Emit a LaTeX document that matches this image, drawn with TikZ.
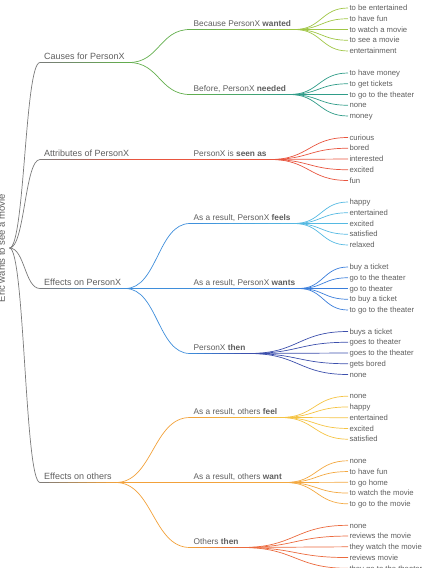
\documentclass[tikz,border=0pt]{standalone}
\usepackage{fontspec}
\setmainfont{Liberation Sans}
\usetikzlibrary{calc}
\definecolor{labelgray}{HTML}{5E5E5E}
\definecolor{edgegray}{HTML}{7A7A7A}
\definecolor{green1}{HTML}{62AE4C}
\definecolor{lime}{HTML}{A0C645}
\definecolor{teal1}{HTML}{2F9C88}
\definecolor{red1}{HTML}{E8553F}
\definecolor{blue1}{HTML}{3F8EDB}
\definecolor{sky}{HTML}{55B9E2}
\definecolor{blue2}{HTML}{3A7EDB}
\definecolor{indigo}{HTML}{3C4FAC}
\definecolor{orange1}{HTML}{F2A13A}
\definecolor{yellow1}{HTML}{F5C343}
\definecolor{orange2}{HTML}{F3A840}
\definecolor{coral}{HTML}{EB6A3E}
\newcommand{\stripe}[3]{\foreach \k in {0,...,7}{\pgfmathsetmacro\mix{100-(\k+0.5)*12.5}\draw[link,line cap=rect,#2!\mix!#3] ($(#1.south west)!\k/8!(#1.south east)$) -- ($(#1.south west)!{(\k+1)/8}!(#1.south east)$);}}

\begin{document}
\begin{tikzpicture}[x=1pt,y=-1pt,every node/.style={text=labelgray},topic/.style={anchor=south west,inner xsep=4pt,inner ysep=2.7pt,text depth=0pt,font=\fontsize{9}{11}\selectfont},subtopic/.style={anchor=south west,inner xsep=3.5pt,inner ysep=2.7pt,text depth=0pt,font=\fontsize{8.3}{10}\selectfont},leaf/.style={anchor=west,inner xsep=1.3pt,inner ysep=0pt,text height=6pt,text depth=0.6pt,font=\fontsize{7.7}{9}\selectfont},link/.style={line width=0.7pt},curve/.style={to path={let \p1=(\tikztostart),\p2=(\tikztotarget) in .. controls ({(\x1+\x2)/2},\y1) and ({(\x1+\x2)/2},\y2) .. (\tikztotarget)}}]
\useasboundingbox (0,0) rectangle (421,568);
\clip (0,0) rectangle (421,568);
\node[rotate=90,anchor=base,inner sep=0pt,font=\fontsize{9.5}{11}\selectfont] (root) at (5,248){Eric wants to see a movie};
\coordinate (rootpt) at (9.5,248);
\node[topic] (causes) at (40,62.5){Causes for PersonX};
\node[topic] (attr) at (40,159.5){Attributes of PersonX};
\node[topic] (effx) at (40,288.5){Effects on PersonX};
\node[topic] (effo) at (40,482.5){Effects on others};
\node[subtopic] (wanted) at (190,29.5){Because PersonX \textbf{wanted}};
\node[subtopic] (needed) at (190,94.5){Before, PersonX \textbf{needed}};
\node[subtopic] (seen) at (190,159.5){PersonX is \textbf{seen as}};
\node[subtopic] (feels) at (190,223.5){As a result, PersonX \textbf{feels}};
\node[subtopic] (wants) at (190,288.5){As a result, PersonX \textbf{wants}};
\node[subtopic] (xthen) at (190,353.5){PersonX \textbf{then}};
\node[subtopic] (ofeel) at (190,417.5){As a result, others \textbf{feel}};
\node[subtopic] (owant) at (190,482.5){As a result, others \textbf{want}};
\node[subtopic] (othen) at (190,547.5){Others \textbf{then}};
\foreach \t/\c in {causes/green1,attr/red1,effx/blue1,effo/orange1}{
  \draw[link,edgegray] (rootpt) to[curve] (\t.south west);
  \stripe{\t}{edgegray}{\c}
}
\foreach \p/\s/\a/\b in {causes/wanted/green1/lime,causes/needed/green1/teal1,attr/seen/red1/red1,effx/feels/blue1/sky,effx/wants/blue1/blue2,effx/xthen/blue1/indigo,effo/ofeel/orange1/yellow1,effo/owant/orange1/orange2,effo/othen/orange1/coral}{
  \draw[link,\a] (\p.south east) to[curve] (\s.south west);
  \stripe{\s}{\a}{\b}
}
\foreach \s/\c/\y/\list in {wanted/lime/29.5/{to be entertained,to have fun,to watch a movie,to see a movie,entertainment},needed/teal1/94.5/{to have money,to get tickets,to go to the theater,none,money},seen/red1/159/{curious,bored,interested,excited,fun},feels/sky/223.5/{happy,entertained,excited,satisfied,relaxed},wants/blue2/288.5/{buy a ticket,go to the theater,go to theater,to buy a ticket,to go to the theater},xthen/indigo/353/{buys a ticket,goes to theater,goes to the theater,gets bored,none},ofeel/yellow1/417.7/{none,happy,entertained,excited,satisfied},owant/orange2/482.3/{none,to have fun,to go home,to watch the movie,to go to the movie},othen/coral/546.8/{none,reviews the movie,they watch the movie,reviews movie,they go to the theater}}{
  \foreach \w [count=\i] in \list{
    \node[leaf] (\s-\i) at (348,{\y+(\i-3)*10.75}){\w};
    \draw[link,\c] (\s.south east) to[curve] (\s-\i.west);
  }
}
\end{tikzpicture}
\end{document}
